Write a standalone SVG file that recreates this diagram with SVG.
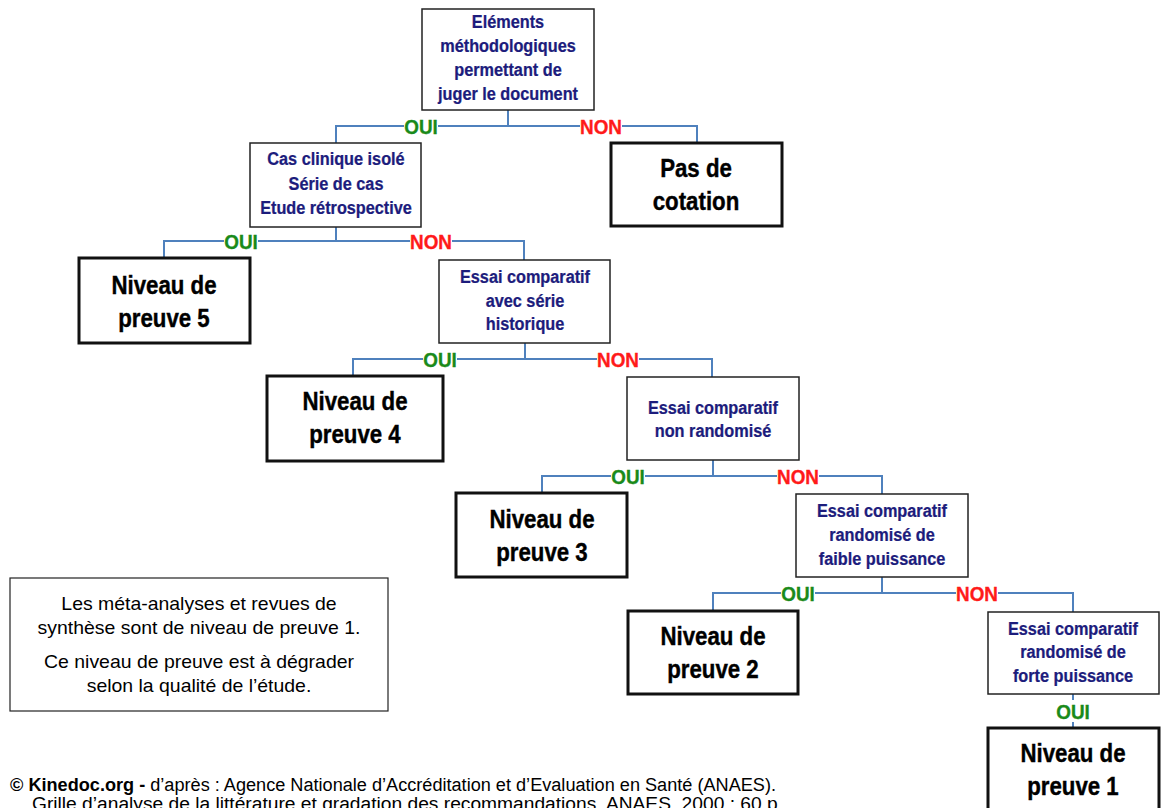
<svg xmlns="http://www.w3.org/2000/svg" width="1161" height="808" viewBox="0 0 1161 808">
<style>
.q{fill:#fff;stroke:#222;stroke-width:1.5}
.r{fill:#fff;stroke:#111;stroke-width:3}
.n{fill:#fff;stroke:#222;stroke-width:1.2}
.bt{font-family:"Liberation Sans",Arial,sans-serif;font-weight:bold;font-size:17.5px;fill:#1c1c7c;stroke:#1c1c7c;stroke-width:0.25;text-anchor:middle}
.lt{font-family:"Liberation Sans",Arial,sans-serif;font-weight:bold;font-size:25px;fill:#000;stroke:#000;stroke-width:0.4;text-anchor:middle}
.oui{font-family:"Liberation Sans",Arial,sans-serif;font-weight:bold;font-size:21px;fill:#1a8a1a;stroke:#1a8a1a;stroke-width:0.35;text-anchor:middle}
.non{font-family:"Liberation Sans",Arial,sans-serif;font-weight:bold;font-size:21px;fill:#ff1a1a;stroke:#ff1a1a;stroke-width:0.35;text-anchor:middle}
.c{fill:none;stroke:#4f81bd;stroke-width:2}
.lb{fill:#fff}
.nt{font-family:"Liberation Sans",Arial,sans-serif;font-size:18px;fill:#000;text-anchor:middle}
.ft{font-family:"Liberation Sans",Arial,sans-serif;font-size:18px;fill:#000}
</style>
<g id="connectors">
<path class="c" d="M508 110V126M336 143V126H697V143"/>
<path class="c" d="M336 227V241M164 258V241H524V260"/>
<path class="c" d="M525 343V359M353 376V359H712V377"/>
<path class="c" d="M713 460V476M542 493V476H882V494"/>
<path class="c" d="M882 577V593M713 611V593H1073V612"/>
<path class="c" d="M1073 694V728"/>
<rect class="lb" x="404" y="115" width="34" height="22"/><text class="oui" transform="translate(421 134) scale(0.9 1)">OUI</text>
<rect class="lb" x="580" y="115" width="42" height="22"/><text class="non" transform="translate(601 134) scale(0.9 1)">NON</text>
<rect class="lb" x="224" y="230" width="34" height="22"/><text class="oui" transform="translate(241 249) scale(0.9 1)">OUI</text>
<rect class="lb" x="410" y="230" width="42" height="22"/><text class="non" transform="translate(431 249) scale(0.9 1)">NON</text>
<rect class="lb" x="423" y="348" width="34" height="22"/><text class="oui" transform="translate(440 367) scale(0.9 1)">OUI</text>
<rect class="lb" x="597" y="348" width="42" height="22"/><text class="non" transform="translate(618 367) scale(0.9 1)">NON</text>
<rect class="lb" x="611" y="465" width="34" height="22"/><text class="oui" transform="translate(628 484) scale(0.9 1)">OUI</text>
<rect class="lb" x="777" y="465" width="42" height="22"/><text class="non" transform="translate(798 484) scale(0.9 1)">NON</text>
<rect class="lb" x="781" y="582" width="34" height="22"/><text class="oui" transform="translate(798 601) scale(0.9 1)">OUI</text>
<rect class="lb" x="956" y="582" width="42" height="22"/><text class="non" transform="translate(977 601) scale(0.9 1)">NON</text>
<rect class="lb" x="1056" y="700" width="34" height="22"/><text class="oui" transform="translate(1073 719) scale(0.9 1)">OUI</text>
</g>
<g id="n-elements">
<rect class="q" x="422" y="9" width="172" height="101"/>
<text class="bt" transform="translate(508 28) scale(0.93 1)">Eléments</text>
<text class="bt" transform="translate(508 52) scale(0.93 1)">méthodologiques</text>
<text class="bt" transform="translate(508 76) scale(0.93 1)">permettant de</text>
<text class="bt" transform="translate(508 100) scale(0.93 1)">juger le document</text>
</g>
<g id="n-cas">
<rect class="q" x="250" y="143" width="171" height="84"/>
<text class="bt" transform="translate(336 165) scale(0.93 1)">Cas clinique isolé</text>
<text class="bt" transform="translate(336 190) scale(0.93 1)">Série de cas</text>
<text class="bt" transform="translate(336 214) scale(0.93 1)">Etude rétrospective</text>
</g>
<g id="n-pas">
<rect class="r" x="611" y="143" width="171" height="83"/>
<text class="lt" transform="translate(696 177) scale(0.89 1)">Pas de</text>
<text class="lt" transform="translate(696 210) scale(0.89 1)">cotation</text>
</g>
<g id="n-5">
<rect class="r" x="79" y="258" width="171" height="85"/>
<text class="lt" transform="translate(164 294) scale(0.89 1)">Niveau de</text>
<text class="lt" transform="translate(164 327) scale(0.89 1)">preuve 5</text>
</g>
<g id="n-hist">
<rect class="q" x="439" y="260" width="171" height="83"/>
<text class="bt" transform="translate(525 283) scale(0.93 1)">Essai comparatif</text>
<text class="bt" transform="translate(525 307) scale(0.93 1)">avec série</text>
<text class="bt" transform="translate(525 330) scale(0.93 1)">historique</text>
</g>
<g id="n-4">
<rect class="r" x="267" y="376" width="176" height="85"/>
<text class="lt" transform="translate(355 410) scale(0.89 1)">Niveau de</text>
<text class="lt" transform="translate(355 443) scale(0.89 1)">preuve 4</text>
</g>
<g id="n-nonrand">
<rect class="q" x="627" y="377" width="172" height="83"/>
<text class="bt" transform="translate(713 414) scale(0.93 1)">Essai comparatif</text>
<text class="bt" transform="translate(713 437) scale(0.93 1)">non randomisé</text>
</g>
<g id="n-3">
<rect class="r" x="456" y="493" width="171" height="84"/>
<text class="lt" transform="translate(542 528) scale(0.89 1)">Niveau de</text>
<text class="lt" transform="translate(542 561) scale(0.89 1)">preuve 3</text>
</g>
<g id="n-faible">
<rect class="q" x="796" y="494" width="172" height="83"/>
<text class="bt" transform="translate(882 517) scale(0.93 1)">Essai comparatif</text>
<text class="bt" transform="translate(882 541) scale(0.93 1)">randomisé de</text>
<text class="bt" transform="translate(882 565) scale(0.93 1)">faible puissance</text>
</g>
<g id="n-2">
<rect class="r" x="628" y="611" width="170" height="83"/>
<text class="lt" transform="translate(713 645) scale(0.89 1)">Niveau de</text>
<text class="lt" transform="translate(713 678) scale(0.89 1)">preuve 2</text>
</g>
<g id="n-forte">
<rect class="q" x="988" y="612" width="171" height="82"/>
<text class="bt" transform="translate(1073 635) scale(0.93 1)">Essai comparatif</text>
<text class="bt" transform="translate(1073 658) scale(0.93 1)">randomisé de</text>
<text class="bt" transform="translate(1073 682) scale(0.93 1)">forte puissance</text>
</g>
<g id="n-1">
<rect class="r" x="988" y="728" width="171" height="90"/>
<text class="lt" transform="translate(1073 762) scale(0.89 1)">Niveau de</text>
<text class="lt" transform="translate(1073 795) scale(0.89 1)">preuve 1</text>
</g>
<g id="note">
<rect class="n" x="10" y="578" width="378" height="133"/>
<text class="nt" transform="translate(199 610) scale(1.08 1)">Les méta-analyses et revues de</text>
<text class="nt" transform="translate(199 634) scale(1.08 1)">synthèse sont de niveau de preuve 1.</text>
<text class="nt" transform="translate(199 668) scale(1.08 1)">Ce niveau de preuve est à dégrader</text>
<text class="nt" transform="translate(199 692) scale(1.08 1)">selon la qualité de l’étude.</text>
</g>
<g id="footer">
<text class="ft" x="10" y="791" textLength="766" lengthAdjust="spacingAndGlyphs"><tspan font-weight="bold">© Kinedoc.org -</tspan> d’après : Agence Nationale d’Accréditation et d’Evaluation en Santé (ANAES).</text>
<text class="ft" x="32" y="810" textLength="751" lengthAdjust="spacingAndGlyphs">Grille d’analyse de la littérature et gradation des recommandations. ANAES, 2000 ; 60 p.</text>
</g>
</svg>
